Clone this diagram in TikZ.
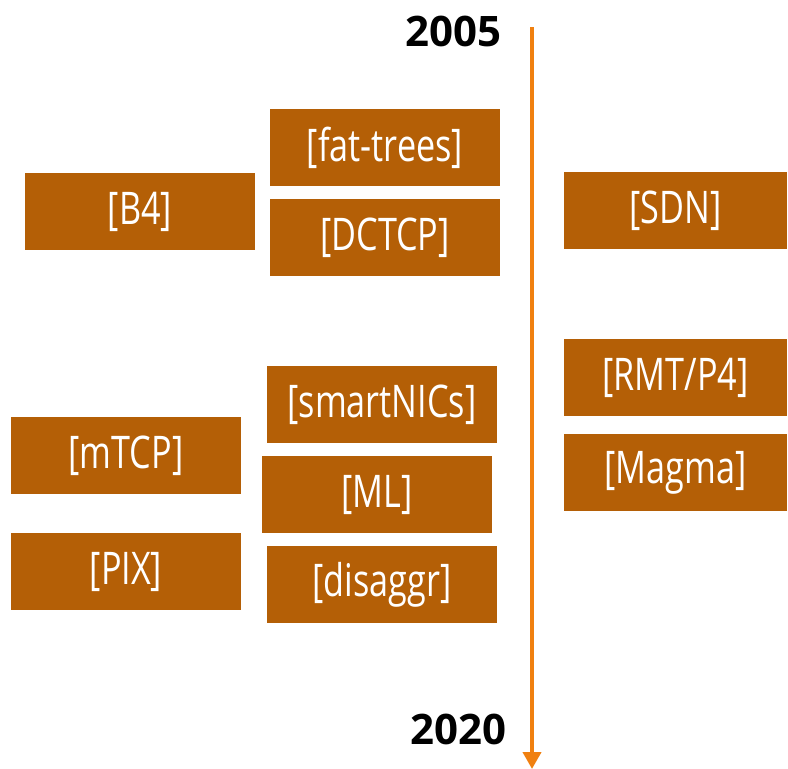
\documentclass[tikz,border=0pt]{standalone}
\usepackage{fontspec}
\setmainfont{Open Sans}
\newfontfamily\boxfont{Open Sans}[FakeStretch=0.76]
\usepackage{tikz}
\usetikzlibrary{arrows.meta}
\definecolor{paperbrown}{HTML}{B45F06}
\definecolor{timeorange}{HTML}{F08010}

\begin{document}
\begin{tikzpicture}[x=1pt, y=-1pt,
  paper/.style={fill=paperbrown, text=white, minimum width=230pt, minimum height=77pt,
    inner sep=0pt, font=\boxfont\fontsize{45}{48}\selectfont},
  year/.style={font=\bfseries\fontsize{42}{46}\selectfont, inner sep=0pt}]
\useasboundingbox (0,0) rectangle (788,769);

\node[year] (y2005) at (453,31) {2005};
\node[year] (y2020) at (458,729) {2020};
\coordinate (tstart) at (532,27);
\coordinate (tend) at (532,769);
\draw[timeorange, line width=4pt, -{Triangle[width=18pt,length=17pt]}] (tstart) -- (tend);

\node[paper] (fattrees) at (385,147.5) {[fat-trees]};
\node[paper] (dctcp) at (385,237.5) {[DCTCP]};
\node[paper] (bfour) at (140,211.5) {[B4]};
\node[paper, minimum width=223pt] (sdn) at (675.5,210.5) {[SDN]};
\node[paper, minimum width=223pt] (rmt) at (675.5,377.5) {[RMT/P4]};
\node[paper, minimum width=223pt] (magma) at (675.5,472.5) {[Magma]};
\node[paper] (smartnics) at (382,404.5) {[smartNICs]};
\node[paper] (mtcp) at (126,455.5) {[mTCP]};
\node[paper] (ml) at (377,494.5) {[ML]};
\node[paper] (pix) at (126,571.5) {[PIX]};
\node[paper] (disaggr) at (382,584.5) {[disaggr]};
\end{tikzpicture}
\end{document}
